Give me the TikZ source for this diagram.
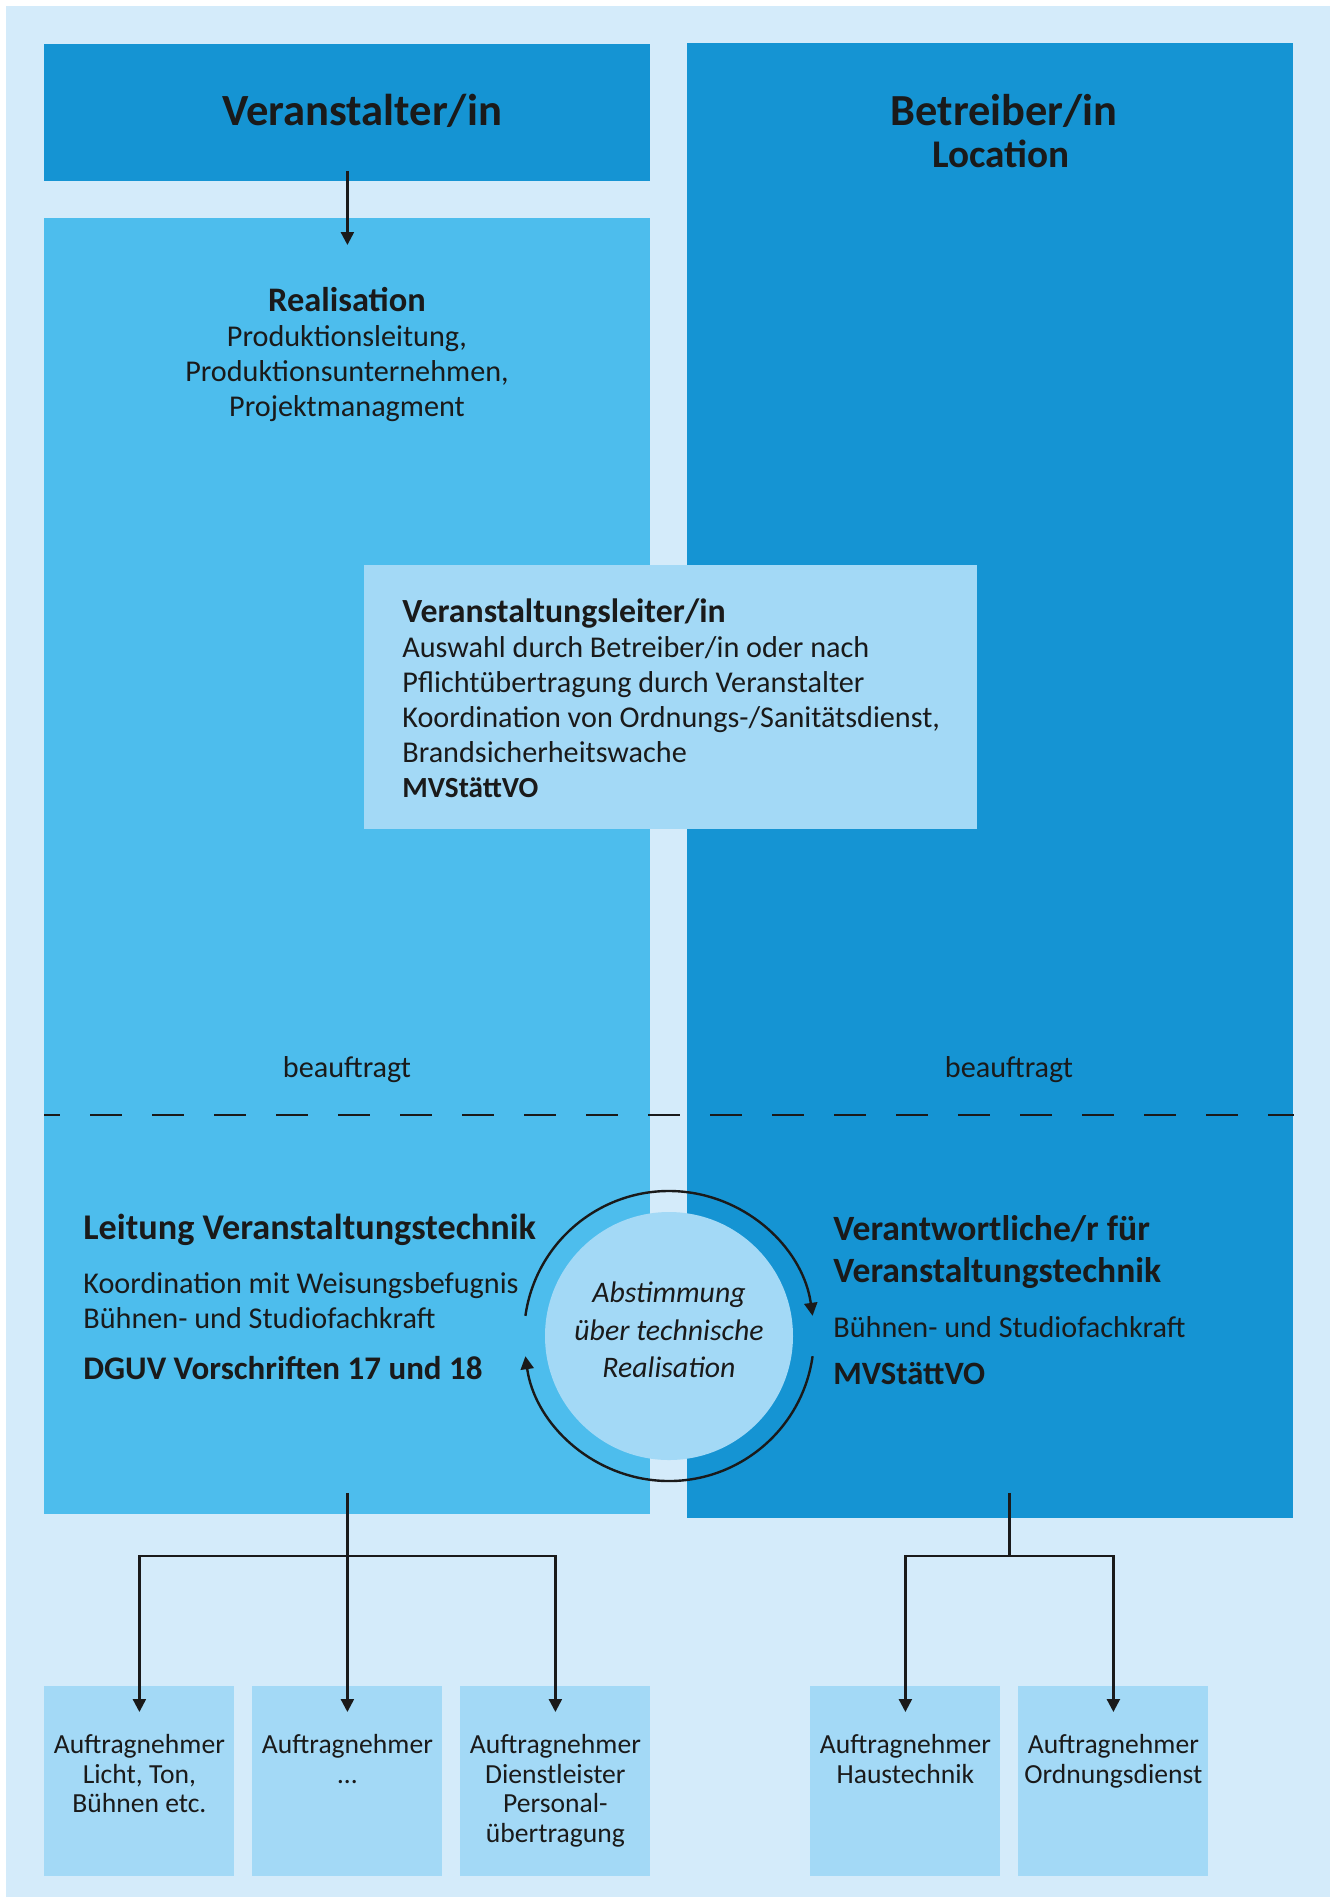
\documentclass[tikz,border=0pt]{standalone}
\usepackage{fontspec}
\setmainfont{Carlito}
\usetikzlibrary{arrows.meta,positioning,calc}
\definecolor{vBg}   {HTML}{D4EBFA}
\definecolor{vDark} {HTML}{1594D3}
\definecolor{vMid}  {HTML}{4DBDED}
\definecolor{vLight}{HTML}{A3D9F6}
\definecolor{vInk}  {HTML}{1A1A1A}
\newcommand{\bodyfont}{\fontsize{15.1}{17.5}\selectfont}

\begin{document}
\begin{tikzpicture}[
  x=0.5pt, y=-0.5pt, text=vInk,
  area/.style={draw=none, inner sep=0pt, anchor=north west},
  subbox/.style={area, fill=vLight, minimum width=95pt, minimum height=95pt},
  txt/.style={inner sep=0pt, font=\bodyfont},
  subtxt/.style={txt, align=center, font=\fontsize{13.8}{14.75}\selectfont},
  ar/.style={-{Triangle[length=6.5pt, width=6.5pt]}, draw=vInk, line width=1.2pt},
  arr/.style={{Triangle[length=6.5pt, width=6.5pt]}-{Triangle[length=6.5pt, width=6.5pt]},
              draw=vInk, line width=1.2pt},
  ln/.style={draw=vInk, line width=1.2pt},
  cut/.style={draw=vInk, line width=1.4pt, dash pattern=on 16pt off 15pt, dash phase=8pt},
]
\fill[white] (0,0) rectangle (1338,1903);
\fill[vBg] (6,6) rectangle (1330,1897);
\useasboundingbox (0,0) rectangle (1338,1903);

% ---------------------------------------------------------------- flaechen
\node[area, fill=vDark, minimum width=303pt, minimum height=68.5pt] (veran) at (44,44) {};
\node[area, fill=vMid, minimum width=303pt, minimum height=648pt] (real) at (44,218) {};
\node[area, fill=vDark, minimum width=303pt, minimum height=737.5pt] (betr) at (687,43) {};

% ---------------------------------------------------------------- titel
\node[txt, font=\fontsize{22.3}{24}\selectfont\bfseries] (tVer) at (362,111) {Veranstalter/in};
\node[txt, font=\fontsize{22.2}{24}\selectfont\bfseries] (tBet) at (1004,111) {Betreiber/in};
\node[txt, font=\fontsize{19.6}{22}\selectfont\bfseries] (tLoc) at (1001,154) {Location};

\node[txt, align=center] (tReal) at (347,354)
  {{\fontsize{17.2}{17.5}\selectfont\bfseries Realisation}\\
   Produktionsleitung,\\ Produktionsunternehmen,\\ Projektmanagment};

% ---------------------------------------------------------------- veranstaltungsleiter
\node[area, fill=vLight, minimum width=306.5pt, minimum height=132pt] (vl) at (364,565) {};
\node[txt, align=left, anchor=west] (tVl) at (402,698)
  {{\fontsize{16.9}{17.5}\selectfont\bfseries Veranstaltungsleiter/in}\\
   Auswahl durch Betreiber/in oder nach\\
   Pflicht\"ubertragung durch Veranstalter\\
   Koordination von Ordnungs-/Sanit\"atsdienst,\\
   Brandsicherheitswache\\
   {\fontsize{14.6}{17.5}\selectfont\bfseries MVSt\"attVO}};

% ---------------------------------------------------------------- trennlinie
\node[txt] (bLeft) at (347,1070) {beauftragt};
\node[txt] (bRight) at (1009,1070) {beauftragt};
\coordinate (cutY) at (0,1115);
\draw[cut] (real.west |- cutY) -- (betr.east |- cutY);

% ---------------------------------------------------------------- technik
\node[txt, anchor=west, font=\fontsize{18.1}{21}\selectfont\bfseries] (tLeit) at (83,1230)
  {Leitung Veranstaltungstechnik};
\node[txt, anchor=west, align=left] (tLeitB) at (83,1301)
  {Koordination mit Weisungsbefugnis\\ B\"uhnen- und Studiofachkraft};
\node[txt, anchor=west, font=\fontsize{16.5}{18}\selectfont\bfseries] (tDguv) at (83,1368)
  {DGUV Vorschriften 17 und 18};

\node[txt, anchor=west, align=left, font=\fontsize{17.8}{21}\selectfont\bfseries] (tVerw) at (833,1252)
  {Verantwortliche/r f\"ur\\ Veranstaltungstechnik};
\node[txt, anchor=west] (tVerwB) at (833,1327) {B\"uhnen- und Studiofachkraft};
\node[txt, anchor=west, font=\fontsize{16.3}{19}\selectfont\bfseries] (tMv) at (833,1374) {MVSt\"attVO};

% ---------------------------------------------------------------- abstimmung
\node[circle, fill=vLight, minimum size=124pt, inner sep=0pt] (abst) at (669,1336) {};
\node[txt, align=center, font=\fontsize{14.9}{18.75}\selectfont\itshape] (tAbst) at (669,1330)
  {Abstimmung\\ \"uber technische\\ Realisation};
\draw[ar] ([shift={(172:72.5pt)}]abst.center) arc[start angle=172, end angle=8, radius=72.5pt];
\draw[ar] ([shift={(-8:72.5pt)}]abst.center) arc[start angle=-8, end angle=-172, radius=72.5pt];

% ---------------------------------------------------------------- auftragnehmer
\node[subbox] (b1) at (44,1686) {};
\node[subbox] (b2) at (252,1686) {};
\node[subbox] (b3) at (460,1686) {};
\node[subbox] (b4) at (810,1686) {};
\node[subbox] (b5) at (1018,1686) {};

\node[subtxt, below=24pt of b1.north] (l1) {Auftragnehmer\\ Licht, Ton,\\ B\"uhnen etc.};
\node[subtxt, below=24pt of b2.north] (l2) {Auftragnehmer\\ \ldots};
\node[subtxt, below=24pt of b3.north] (l3) {Auftragnehmer\\ Dienstleister\\ Personal-\\ \"ubertragung};
\node[subtxt, below=24pt of b4.north] (l4) {Auftragnehmer\\ Haustechnik};
\node[subtxt, below=24pt of b5.north] (l5) {Auftragnehmer\\ Ordnungsdienst};

% ---------------------------------------------------------------- pfeile
\draw[ar] ([yshift=5.5pt]veran.south) -- ([yshift=-13.5pt]real.north);

\coordinate (lbar) at (346,1556);
\coordinate (rbar) at (1009,1556);
\coordinate (rmid) at ($(b4.north)!0.5!(b5.north)$);
\draw[arr] ([yshift=-13pt]b1.north) |- (lbar) -| ([yshift=-13pt]b3.north);
\draw[ar] ([yshift=11pt]real.south) -- ([yshift=-13pt]b2.north);

\draw[ln] ($(rmid |- betr.south)+(0,-26)$) -- (rmid |- rbar);
\draw[arr] ([yshift=-13pt]b4.north) |- (rbar) -| ([yshift=-13pt]b5.north);

\end{tikzpicture}
\end{document}
